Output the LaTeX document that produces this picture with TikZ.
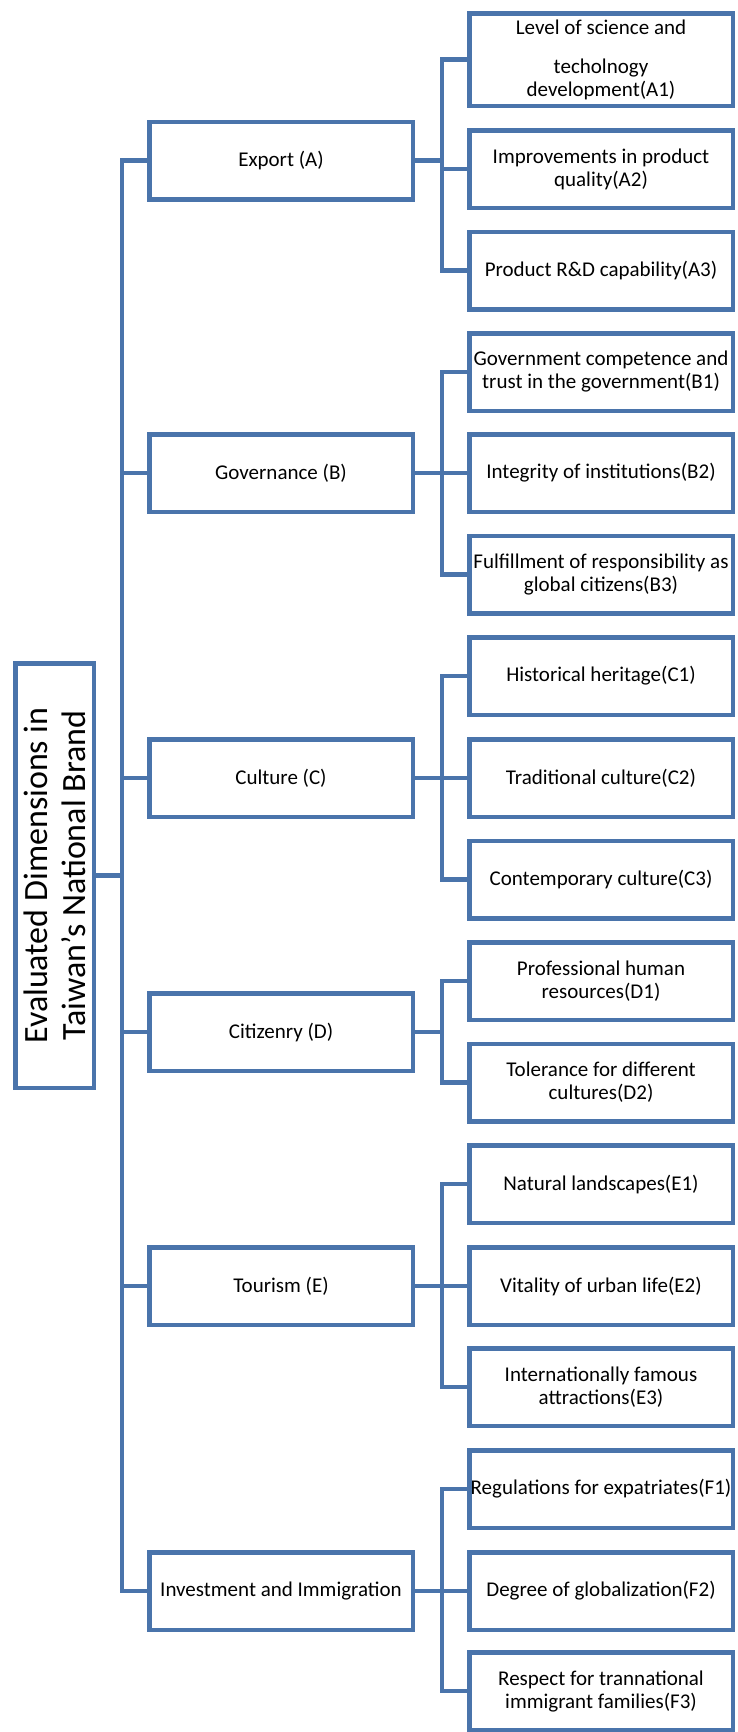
\documentclass[tikz,border=0pt]{standalone}
\usepackage{fontspec}
\setmainfont{Carlito}
\usetikzlibrary{calc}
\definecolor{boxblue}{HTML}{4A74AB}

\begin{document}
\begin{tikzpicture}[x=1pt,y=-1pt,
    box/.style={draw=boxblue,line width=4.5pt,fill=white,inner sep=0pt,
      minimum width=263.5pt,minimum height=77.5pt,align=center,
      font=\fontsize{21}{23}\selectfont},
    link/.style={draw=boxblue,line width=4.5pt}]
    %\draw[step=50pt, gray,very thin] (0,0) grid (737,1732);
    \useasboundingbox (0,0) rectangle (737,1732);

    \begin{scope}
    % root
    \node[box,rotate=90,minimum width=424.5pt,minimum height=78.5pt,
      font=\fontsize{34}{38}\selectfont] (root) at (54.5,875.5)
      {Evaluated Dimensions in\\Taiwan’s National Brand};

    % dimensions
    \node[box] (export) at (281,160.5) {Export (A)};
    \node[box] (gov) at (281,473) {Governance (B)};
    \node[box] (culture) at (281,778) {Culture (C)};
    \node[box] (citizen) at (281,1032) {Citizenry (D)};
    \node[box] (tourism) at (281,1286) {Tourism (E)};
    \node[box] (invest) at (281,1591) {Investment and Immigration};

    % criteria
    \node[box,minimum height=92.5pt] (a1) at (601,59.5)
      {Level of science and\\[16pt]techolnogy\\development(A1)};
    \node[box] (a2) at (601,169) {Improvements in product\\quality(A2)};
    \node[box] (a3) at (601,270.5) {Product R\&D capability(A3)};
    \node[box] (b1) at (601,372) {Government competence and\\trust in the government(B1)};
    \node[box] (b2) at (601,473) {Integrity of institutions(B2)};
    \node[box] (b3) at (601,574.5) {Fulfillment of responsibility as\\global citizens(B3)};
    \node[box] (c1) at (601,676) {Historical heritage(C1)};
    \node[box] (c2) at (601,778) {Traditional culture(C2)};
    \node[box] (c3) at (601,879.5) {Contemporary culture(C3)};
    \node[box] (d1) at (601,981) {Professional human\\resources(D1)};
    \node[box] (d2) at (601,1082.5) {Tolerance for different\\cultures(D2)};
    \node[box] (e1) at (601,1184) {Natural landscapes(E1)};
    \node[box] (e2) at (601,1286) {Vitality of urban life(E2)};
    \node[box] (e3) at (601,1387) {Internationally famous\\attractions(E3)};
    \node[box] (f1) at (601,1489) {Regulations for expatriates(F1)};
    \node[box] (f2) at (601,1591) {Degree of globalization(F2)};
    \node[box] (f3) at (601,1691) {Respect for trannational\\immigrant families(F3)};
    \end{scope}

    \coordinate (spine) at (122,875.5);
    \coordinate (ka) at (442,160.5);
    \coordinate (kb) at (442,473);
    \coordinate (kc) at (442,778);
    \coordinate (kd) at (442,1032);
    \coordinate (ke) at (442,1286);
    \coordinate (kf) at (442,1591);

    \begin{scope}[link]
    \draw (export.west) -| (spine) |- (invest.west);
    \draw (root.south) -- (spine);
    \draw (gov.west) -- (gov.west -| spine);
    \draw (culture.west) -- (culture.west -| spine);
    \draw (citizen.west) -- (citizen.west -| spine);
    \draw (tourism.west) -- (tourism.west -| spine);

    \draw (a1.west) -| (ka) |- (a3.west);
    \draw (export.east) -- (ka);
    \draw (a2.west) -- (a2.west -| ka);
    \draw (b1.west) -| (kb) |- (b3.west);
    \draw (gov.east) -- (b2.west);
    \draw (c1.west) -| (kc) |- (c3.west);
    \draw (culture.east) -- (c2.west);
    \draw (d1.west) -| (kd) |- (d2.west);
    \draw (citizen.east) -- (kd);
    \draw (e1.west) -| (ke) |- (e3.west);
    \draw (tourism.east) -- (e2.west);
    \draw (f1.west) -| (kf) |- (f3.west);
    \draw (invest.east) -- (f2.west);
    \end{scope}
\end{tikzpicture}
\end{document}
